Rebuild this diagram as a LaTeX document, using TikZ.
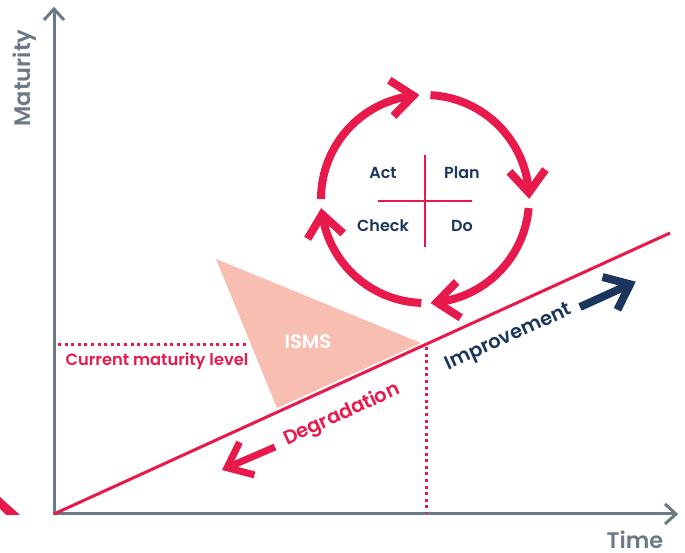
\documentclass[tikz,border=0pt]{standalone}
\usepackage{fontspec}
\setmainfont{Poppins}[BoldFont={* SemiBold}]
\usetikzlibrary{calc}
\definecolor{pdcared}{HTML}{E8194B}
\definecolor{navyblue}{HTML}{1B365D}
\definecolor{axisgray}{HTML}{6C7A87}
\definecolor{ismsfill}{HTML}{F9BEB2}
\begin{document}
\begin{tikzpicture}[x=1pt,y=1pt,line join=miter,line cap=butt,
  axisline/.style={draw=axisgray,line width=3pt},
  cycleline/.style={draw=pdcared,line width=8pt},
  trendline/.style={draw=pdcared,line width=3pt},
  dotline/.style={draw=pdcared,line width=3pt,dash pattern=on 3pt off 3.6pt},
  crossline/.style={draw=pdcared,line width=2pt},
  pdcalabel/.style={text=navyblue,font=\bfseries\fontsize{16}{18}\selectfont,inner sep=0pt},
  biglabel/.style={font=\bfseries\fontsize{19.5}{22}\selectfont,inner sep=0pt},
  axislabel/.style={text=axisgray,font=\bfseries\fontsize{22.5}{26}\selectfont,inner sep=0pt}]
\useasboundingbox (0,0) rectangle (685,553);

% ISMS wedge
\fill[ismsfill] (216,294) -- (421,210) -- (277,145) -- cycle;
\node[biglabel,text=white] (isms) at (308,211) {ISMS};

% axes
\draw[axisline] (54,544) -- (54,39) -- (676,39);
\draw[axisline] (44,533) -- (54,544) -- (64,533);
\draw[axisline] (665,49) -- (676,39) -- (665,29);
\node[axislabel,rotate=90] (maturity) at (25,475) {Maturity};
\node[axislabel] (time) at (635,13.5) {Time};

% partly visible mark at the lower left edge
\fill[pdcared] (0,56) -- (20,38) -- (6,38) -- (0,44) -- cycle;

% maturity trend line and current level markers
\coordinate (origin) at (54,39);
\coordinate (trendend) at (670,320);
\draw[trendline] (origin) -- (trendend);
\draw[dotline] (58,208) -- (248,208);
\draw[dotline] (426,206) -- (426,40);
\node[text=pdcared,font=\bfseries\fontsize{16.3}{18}\selectfont,inner sep=0pt] (current) at (157,192) {Current maturity level};

% degradation and improvement arrows
\draw[trendline,line width=7pt] (275,106) -- (227,85.3);
\draw[trendline,line width=7pt,shift={(227,85.3)},rotate=204.5] (-22,18) -- (0,0) -- (-22,-18);
\node[biglabel,text=pdcared,rotate=24.5] (degr) at (342,138) {Degradation};
\draw[draw=navyblue,line width=8pt] (580,246) -- (630,268.7);
\draw[draw=navyblue,line width=8pt,shift={(630,268.7)},rotate=24.5] (-22,18) -- (0,0) -- (-22,-18);
\node[biglabel,text=navyblue,rotate=24.5] (impr) at (509,215) {Improvement};

% PDCA cycle
\coordinate (C) at (425,354);
\draw[cycleline] ($(C)+(180:104)$) arc[start angle=180,end angle=96.5,radius=104];
\draw[cycleline] ($(C)+(87:104)$) arc[start angle=87,end angle=3.5,radius=104];
\draw[cycleline] ($(C)+(-5:104)$) arc[start angle=-5,end angle=-83.5,radius=104];
\draw[cycleline] ($(C)+(-92:104)$) arc[start angle=-92,end angle=-171.5,radius=104];
\foreach \a in {96.5,3.5,-83.5,-171.5}
  \draw[cycleline,shift={(C)},rotate=\a] (86,22) -- (104,0) -- (122,22);

\draw[crossline] (425,398) -- (425,306);
\draw[crossline] (378,352) -- (472,352);
\node[pdcalabel] (act) at (383,380) {Act};
\node[pdcalabel] (plan) at (462,380) {Plan};
\node[pdcalabel] (check) at (383,327) {Check};
\node[pdcalabel] (do) at (462,327) {Do};
\end{tikzpicture}
\end{document}
